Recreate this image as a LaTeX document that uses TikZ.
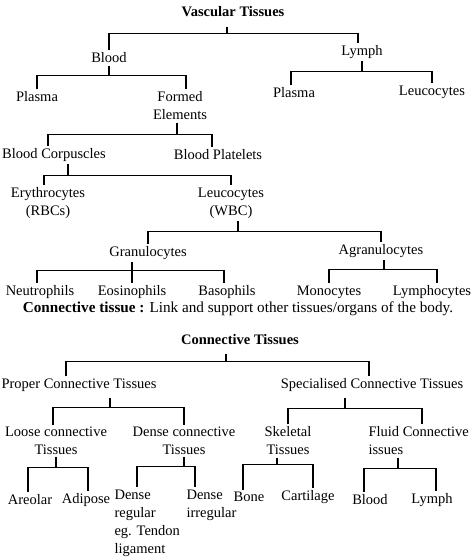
\documentclass[tikz,border=0pt]{standalone}
\usepackage{fontspec}
\setmainfont{Liberation Serif}
\usepackage{tikz}
\usetikzlibrary{positioning}

\begin{document}
\begin{tikzpicture}[x=1pt,y=-1pt,line width=1.1pt,
    every node/.style={inner sep=2pt,font=\fontsize{14.5}{18}\selectfont},
    head/.style={font=\fontsize{14.5}{18}\selectfont\bfseries},
    two/.style={align=center},
    twol/.style={align=left,anchor=west}]

\useasboundingbox (0,0) rectangle (473,560);

% vascular tissues
\node[head] (vt) at (233,12) {Vascular Tissues};
\node (bl)  at (109,58)  {Blood};
\node (ly)  at (362,52)  {Lymph};
\node (pl)  at (37,97)   {Plasma};
\node[two] (fe) at (180,106) {Formed\\Elements};
\node (lpl) at (294,93)  {Plasma};
\node (lle) at (432,92)  {Leucocytes};
\node (bc)  at (54,155)  {Blood Corpuscles};
\node (bp)  at (218,155) {Blood Platelets};
\node[two] (er) at (48,203)  {Erythrocytes\\(RBCs)};
\node[two] (wb) at (231,203) {Leucocytes\\(WBC)};
\node (gr)  at (148,253) {Granulocytes};
\node (ag)  at (381,251) {Agranulocytes};
\node (ne)  at (40,292)  {Neutrophils};
\node (eo)  at (132,292) {Eosinophils};
\node (ba)  at (227,292) {Basophils};
\node (mo)  at (329,292) {Monocytes};
\node (lc)  at (432,292) {Lymphocytes};

\node[font=\fontsize{15.2}{18}\selectfont] (note) at (238,309) {\textbf{Connective tissue :} Link and support other tissues/organs of the body.};

% connective tissues
\node[head] (ct) at (240,340) {Connective Tissues};
\node (pc)  at (79,385)  {Proper Connective Tissues};
\node (sc)  at (372,385) {Specialised Connective Tissues};
\node[two] (lo) at (56,441)  {Loose connective\\Tissues};
\node[two] (de) at (184,441) {Dense connective\\Tissues};
\node[two] (sk) at (288,441) {Skeletal\\Tissues};
\node[twol] (fl) at (366,441) {Fluid Connective\\issues};
\node (ar)  at (30,500)  {Areolar};
\node (ad)  at (86,500)  {Adipose};
\node[twol] (dr) at (112,523) {Dense\\regular\\eg. Tendon\\ligament};
\node[twol] (di) at (184,505) {Dense\\irregular};
\node (bo)  at (249,497) {Bone};
\node (ca)  at (308,497) {Cartilage};
\node (fb)  at (370,500) {Blood};
\node (fy)  at (432,500) {Lymph};

% branches
\draw ([xshift=-6pt,yshift=-7pt]vt.south) -- ++(0,7) coordinate (b1);
\draw (bl.north) |- (b1) -| ([xshift=-4pt]ly.north);

\draw (bl.south) -- ++(0,10) coordinate (b2);
\draw (pl.north) |- (b2) -| ([xshift=6pt]fe.north);

\draw (ly.south) -- ++(0,10) coordinate (b3);
\draw ([xshift=-3pt]lpl.north) |- (b3) -| (lle.north);

\draw ([xshift=-3pt]fe.south) -- ++(0,12) coordinate (b4);
\draw ([xshift=-6pt]bc.north) |- (b4) -| ([xshift=-6pt]bp.north);

\draw ([xshift=14pt]bc.south) -- ++(0,11) coordinate (b5);
\draw ([xshift=-4pt]er.north) |- (b5) -| (wb.north);

\draw ([xshift=7pt]wb.south) -- ++(0,11) coordinate (b6);
\draw (gr.north) |- (b6) -| (ag.north);

\draw (gr.south -| eo.north) -- (eo.north);
\draw ([xshift=-3pt]ne.north) |- ([yshift=12pt]eo.north) -| ([xshift=-3pt]ba.north);

\draw ([xshift=3pt]ag.south) -- ++(0,9) coordinate (b7);
\draw (mo.north) |- (b7) -| ([xshift=5pt]lc.north);

\draw ([xshift=-14pt,yshift=-6pt]ct.south) -- ++(0,8) coordinate (b8);
\draw ([xshift=-13pt]pc.north) |- (b8) -| ([xshift=-3pt]sc.north);

\draw ([xshift=31pt,yshift=-4pt]pc.south) -- ++(0,10) coordinate (b9);
\draw ([xshift=-3pt]lo.north) |- (b9) -| (de.north);

\draw ([xshift=-27pt,yshift=-4pt]sc.south) -- ++(0,10) coordinate (b10);
\draw (sk.north) |- (b10) -| ([xshift=56pt]fl.north west);

\draw (lo.south) -- ++(0,10) coordinate (b11);
\draw ([xshift=-2pt]ar.north) |- (b11) -| ([xshift=2pt]ad.north);

\draw (de.south) -- ++(0,9) coordinate (b12);
\draw ([xshift=25pt]dr.north west) |- (b12) -| ([xshift=11pt]di.north west);

\draw ([xshift=-11pt]sk.south) -- ++(0,7) coordinate (b13);
\draw ([xshift=-6pt]bo.north) |- (b13) -| ([xshift=5pt]ca.north);

\draw ([xshift=32pt]fl.south west) -- ++(0,11) coordinate (b14);
\draw ([xshift=-6pt]fb.north) |- (b14) -| ([xshift=4pt]fy.north);

\end{tikzpicture}
\end{document}
